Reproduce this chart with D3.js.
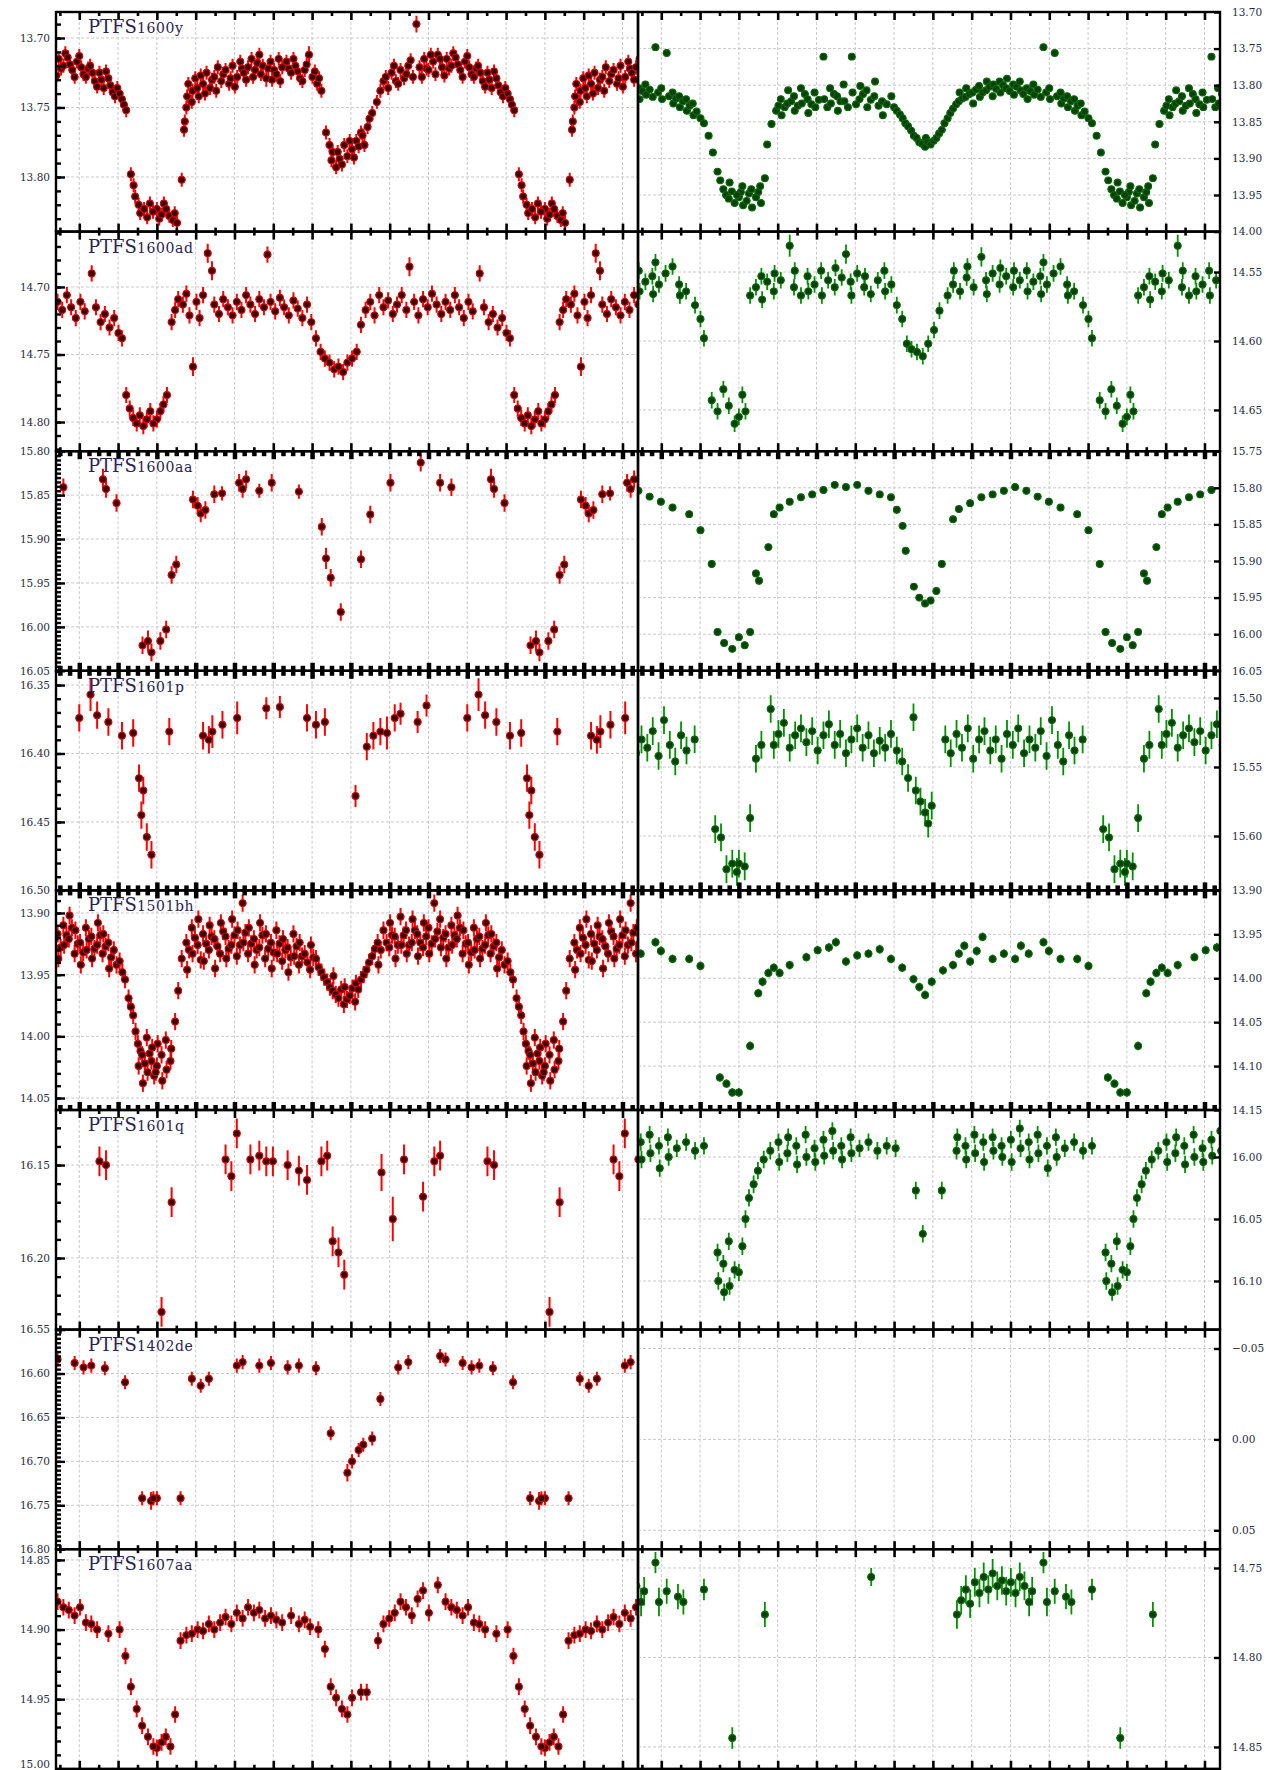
<!DOCTYPE html>
<html><head><meta charset="utf-8">
<script src="https://cdn.jsdelivr.net/npm/d3@7"></script>
<style>body{margin:0;background:#fff}</style>
</head><body>
<svg id="c" width="1266" height="1770"></svg>
<script>
// ---------------- DATA ----------------
const objectNames = ["PTFS1600y","PTFS1600ad","PTFS1600aa","PTFS1601p","PTFS1501bh","PTFS1601q","PTFS1402de","PTFS1607aa"];
const phaseDomain = [-0.26, 1.24];
const phaseMajor = [-0.2,-0.1,0,0.1,0.2,0.3,0.4,0.5,0.6,0.7,0.8,0.9,1.0,1.1,1.2];
const phaseMinorStep = [0.05,0.05,0.025,0.025,0.025,0.05,0.05,0.05];

// y domains (top, bottom) and tick labels, left (red) column
const yDomLeft = [[13.6813,13.8393],[14.659,14.8216],[15.80,16.05],[16.3396,16.50],[13.8817,14.0597],[16.1204,16.2385],[16.55,16.80],[14.8423,15.00]];
const yTicksLeft = [[13.70,13.75,13.80],[14.70,14.75,14.80],[15.80,15.85,15.90,15.95,16.00,16.05],[16.35,16.40,16.45,16.50],[13.90,13.95,14.00,14.05],[16.15,16.20],[16.55,16.60,16.65,16.70,16.75,16.80],[14.85,14.90,14.95,15.00]];
const yMinorLeft = [0.01,0.01,0.005,0.01,0.01,0.01,0.005,0.01];
// right (green) column
const yDomRight = [[13.70,14.00],[14.5207,14.6799],[15.75,16.05],[15.4803,15.6394],[13.90,14.15],[15.9621,16.1392],[-0.0604,0.0604],[14.7395,14.8622]];
const yTicksRight = [[13.70,13.75,13.80,13.85,13.90,13.95,14.00],[14.55,14.60,14.65],[15.75,15.80,15.85,15.90,15.95,16.00,16.05],[15.50,15.55,15.60],[13.90,13.95,14.00,14.05,14.10,14.15],[16.00,16.05,16.10],[-0.05,0.00,0.05],[14.75,14.80,14.85]];

// light curves: [phase, magnitude, error]
const lc1600yL = [[0.000,13.823,0.005],[0.006,13.830,0.005],[0.012,13.827,0.005],[0.018,13.819,0.005],[0.024,13.823,0.005],[0.032,13.828,0.005],[0.041,13.831,0.005],[0.046,13.826,0.005],[0.052,13.833,0.005],[0.064,13.802,0.005],[0.070,13.766,0.005],[0.072,13.760,0.005],[0.076,13.750,0.005],[0.078,13.742,0.005],[0.081,13.733,0.005],[0.090,13.746,0.005],[0.092,13.738,0.005],[0.099,13.729,0.005],[0.104,13.736,0.005],[0.108,13.742,0.005],[0.113,13.727,0.005],[0.119,13.733,0.005],[0.124,13.740,0.005],[0.128,13.725,0.005],[0.137,13.736,0.005],[0.142,13.730,0.005],[0.148,13.728,0.005],[0.153,13.738,0.005],[0.157,13.721,0.005],[0.166,13.731,0.005],[0.171,13.726,0.005],[0.177,13.723,0.005],[0.186,13.733,0.005],[0.190,13.729,0.005],[0.195,13.720,0.005],[0.201,13.735,0.005],[0.207,13.728,0.005],[0.215,13.717,0.005],[0.219,13.722,0.005],[0.224,13.725,0.005],[0.230,13.730,0.005],[0.235,13.721,0.005],[0.244,13.715,0.005],[0.248,13.728,0.005],[0.253,13.723,0.005],[0.259,13.718,0.005],[0.264,13.712,0.005],[0.268,13.726,0.005],[0.273,13.720,0.005],[0.282,13.729,0.006],[0.287,13.722,0.005],[0.293,13.717,0.005],[0.297,13.730,0.005],[0.302,13.723,0.005],[0.308,13.726,0.005],[0.314,13.715,0.005],[0.318,13.731,0.005],[0.323,13.721,0.005],[0.334,13.717,0.005],[0.340,13.722,0.005],[0.346,13.725,0.005],[0.352,13.715,0.005],[0.357,13.720,0.005],[0.363,13.724,0.005],[0.369,13.729,0.005],[0.375,13.731,0.005],[0.381,13.723,0.005],[0.386,13.719,0.005],[0.392,13.712,0.006],[0.401,13.728,0.005],[0.407,13.724,0.005],[0.413,13.733,0.005],[0.418,13.729,0.005],[0.424,13.738,0.005],[0.436,13.768,0.005],[0.445,13.777,0.005],[0.450,13.788,0.005],[0.453,13.782,0.005],[0.462,13.793,0.005],[0.466,13.782,0.005],[0.471,13.787,0.005],[0.477,13.791,0.005],[0.483,13.777,0.005],[0.491,13.785,0.005],[0.497,13.774,0.005],[0.503,13.780,0.005],[0.508,13.786,0.005],[0.514,13.774,0.005],[0.520,13.778,0.005],[0.526,13.768,0.005],[0.530,13.770,0.005],[0.535,13.777,0.005],[0.543,13.764,0.005],[0.548,13.758,0.005],[0.555,13.754,0.005],[0.567,13.746,0.005],[0.576,13.738,0.005],[0.584,13.731,0.005],[0.590,13.728,0.005],[0.596,13.736,0.005],[0.605,13.725,0.005],[0.611,13.720,0.005],[0.616,13.731,0.005],[0.622,13.733,0.005],[0.628,13.723,0.005],[0.637,13.729,0.005],[0.643,13.726,0.005],[0.648,13.720,0.005],[0.654,13.716,0.005],[0.660,13.728,0.005],[0.669,13.690,0.006],[0.677,13.721,0.005],[0.683,13.728,0.005],[0.689,13.715,0.005],[0.695,13.722,0.005],[0.700,13.723,0.005],[0.706,13.712,0.005],[0.712,13.717,0.005],[0.718,13.726,0.005],[0.724,13.712,0.005],[0.730,13.715,0.005],[0.735,13.721,0.005],[0.741,13.727,0.005],[0.747,13.715,0.005],[0.753,13.722,0.005],[0.759,13.720,0.005],[0.764,13.711,0.005],[0.770,13.714,0.005],[0.776,13.719,0.005],[0.782,13.723,0.005],[0.788,13.728,0.005],[0.794,13.717,0.005],[0.800,13.713,0.005],[0.805,13.721,0.005],[0.811,13.726,0.005],[0.817,13.728,0.005],[0.823,13.722,0.005],[0.828,13.720,0.005],[0.834,13.725,0.005],[0.840,13.731,0.005],[0.846,13.735,0.005],[0.852,13.725,0.005],[0.857,13.730,0.005],[0.863,13.736,0.005],[0.869,13.724,0.005],[0.875,13.729,0.005],[0.880,13.734,0.005],[0.886,13.739,0.005],[0.892,13.742,0.005],[0.898,13.736,0.005],[0.904,13.740,0.005],[0.910,13.744,0.005],[0.915,13.748,0.005],[0.921,13.752,0.005],[0.933,13.798,0.005],[0.940,13.806,0.005],[0.944,13.814,0.005],[0.953,13.820,0.005],[0.957,13.826,0.005],[0.967,13.823,0.005],[0.975,13.829,0.005],[0.982,13.819,0.005],[0.990,13.825,0.005]];
const lc1600yR = [[0.000,13.953,0.004],[0.005,13.946,0.004],[0.009,13.938,0.004],[0.011,13.964,0.004],[0.020,13.958,0.004],[0.026,13.948,0.004],[0.032,13.942,0.004],[0.034,13.967,0.004],[0.044,13.953,0.004],[0.050,13.946,0.004],[0.055,13.938,0.004],[0.057,13.961,0.004],[0.067,13.927,0.004],[0.073,13.881,0.004],[0.084,13.853,0.004],[0.096,13.835,0.004],[0.102,13.828,0.004],[0.108,13.819,0.004],[0.110,13.841,0.004],[0.118,13.830,0.004],[0.125,13.825,0.004],[0.127,13.807,0.004],[0.135,13.822,0.004],[0.142,13.815,0.004],[0.144,13.835,0.004],[0.152,13.828,0.004],[0.160,13.804,0.004],[0.162,13.825,0.004],[0.170,13.812,0.004],[0.177,13.819,0.004],[0.179,13.838,0.004],[0.187,13.826,0.004],[0.195,13.810,0.004],[0.197,13.830,0.004],[0.206,13.820,0.004],[0.218,13.761,0.004],[0.220,13.819,0.004],[0.228,13.830,0.004],[0.235,13.804,0.004],[0.237,13.825,0.004],[0.245,13.812,0.004],[0.253,13.815,0.004],[0.255,13.835,0.004],[0.262,13.822,0.004],[0.270,13.799,0.004],[0.272,13.822,0.004],[0.281,13.830,0.004],[0.291,13.761,0.004],[0.293,13.810,0.004],[0.302,13.826,0.004],[0.311,13.819,0.004],[0.313,13.801,0.004],[0.320,13.812,0.004],[0.329,13.807,0.004],[0.331,13.830,0.004],[0.340,13.820,0.004],[0.349,13.815,0.004],[0.351,13.795,0.004],[0.360,13.828,0.004],[0.369,13.822,0.004],[0.371,13.841,0.004],[0.381,13.826,0.004],[0.393,13.815,0.004],[0.400,13.830,0.004],[0.407,13.835,0.004],[0.415,13.840,0.004],[0.422,13.845,0.004],[0.429,13.852,0.004],[0.436,13.856,0.004],[0.444,13.862,0.004],[0.451,13.869,0.004],[0.458,13.872,0.004],[0.465,13.878,0.004],[0.472,13.880,0.004],[0.480,13.884,0.004],[0.482,13.872,0.004],[0.487,13.878,0.004],[0.494,13.881,0.004],[0.502,13.876,0.004],[0.509,13.872,0.004],[0.516,13.866,0.004],[0.523,13.861,0.004],[0.530,13.852,0.004],[0.538,13.845,0.004],[0.545,13.838,0.004],[0.552,13.832,0.004],[0.560,13.826,0.004],[0.567,13.822,0.004],[0.569,13.810,0.004],[0.576,13.818,0.004],[0.584,13.816,0.004],[0.586,13.804,0.004],[0.594,13.812,0.004],[0.602,13.810,0.004],[0.604,13.825,0.004],[0.611,13.806,0.004],[0.619,13.801,0.004],[0.621,13.816,0.004],[0.628,13.810,0.004],[0.637,13.807,0.004],[0.639,13.795,0.004],[0.646,13.802,0.004],[0.654,13.815,0.004],[0.656,13.799,0.004],[0.663,13.805,0.004],[0.672,13.795,0.004],[0.674,13.810,0.004],[0.681,13.800,0.004],[0.689,13.804,0.004],[0.691,13.791,0.004],[0.698,13.808,0.004],[0.707,13.799,0.004],[0.709,13.813,0.004],[0.716,13.802,0.004],[0.724,13.795,0.004],[0.726,13.807,0.004],[0.733,13.812,0.004],[0.742,13.804,0.004],[0.744,13.819,0.004],[0.751,13.808,0.004],[0.759,13.799,0.004],[0.761,13.813,0.004],[0.770,13.806,0.004],[0.778,13.816,0.004],[0.785,13.748,0.004],[0.792,13.810,0.004],[0.800,13.804,0.004],[0.802,13.819,0.004],[0.814,13.756,0.004],[0.820,13.815,0.004],[0.829,13.810,0.004],[0.831,13.825,0.004],[0.838,13.818,0.004],[0.846,13.815,0.004],[0.848,13.830,0.004],[0.856,13.822,0.004],[0.864,13.819,0.004],[0.866,13.835,0.004],[0.873,13.828,0.004],[0.881,13.825,0.004],[0.883,13.841,0.004],[0.891,13.836,0.004],[0.901,13.845,0.004],[0.910,13.852,0.004],[0.922,13.869,0.004],[0.933,13.892,0.004],[0.945,13.918,0.004],[0.952,13.930,0.004],[0.960,13.942,0.004],[0.967,13.950,0.004],[0.974,13.955,0.004],[0.976,13.933,0.004],[0.982,13.945,0.004],[0.989,13.961,0.004],[0.995,13.950,0.004]];
const lc1600adL = [[0.000,14.798,0.006],[0.009,14.792,0.006],[0.017,14.787,0.006],[0.026,14.780,0.006],[0.038,14.726,0.006],[0.047,14.717,0.006],[0.055,14.709,0.006],[0.067,14.713,0.006],[0.076,14.705,0.006],[0.084,14.721,0.006],[0.093,14.759,0.007],[0.102,14.711,0.006],[0.110,14.723,0.006],[0.119,14.706,0.006],[0.131,14.675,0.007],[0.142,14.688,0.007],[0.148,14.713,0.006],[0.160,14.720,0.006],[0.171,14.709,0.006],[0.183,14.715,0.006],[0.195,14.721,0.006],[0.206,14.711,0.006],[0.218,14.717,0.006],[0.230,14.706,0.006],[0.241,14.713,0.006],[0.253,14.720,0.006],[0.264,14.709,0.006],[0.276,14.715,0.006],[0.285,14.676,0.006],[0.293,14.711,0.006],[0.305,14.718,0.006],[0.317,14.708,0.006],[0.328,14.715,0.006],[0.340,14.721,0.006],[0.352,14.710,0.006],[0.363,14.716,0.006],[0.375,14.723,0.006],[0.387,14.713,0.006],[0.398,14.726,0.006],[0.410,14.738,0.006],[0.422,14.748,0.006],[0.433,14.753,0.006],[0.445,14.756,0.006],[0.457,14.761,0.006],[0.468,14.759,0.006],[0.480,14.763,0.006],[0.491,14.756,0.006],[0.503,14.753,0.006],[0.515,14.748,0.006],[0.526,14.728,0.006],[0.538,14.717,0.006],[0.550,14.711,0.006],[0.561,14.721,0.006],[0.573,14.706,0.006],[0.584,14.715,0.006],[0.596,14.710,0.006],[0.608,14.720,0.006],[0.619,14.713,0.006],[0.631,14.706,0.006],[0.643,14.717,0.006],[0.651,14.685,0.007],[0.663,14.711,0.006],[0.674,14.721,0.006],[0.686,14.709,0.006],[0.698,14.715,0.006],[0.709,14.705,0.006],[0.721,14.713,0.006],[0.733,14.720,0.006],[0.744,14.711,0.006],[0.756,14.717,0.006],[0.768,14.706,0.006],[0.779,14.715,0.006],[0.791,14.723,0.006],[0.803,14.711,0.006],[0.814,14.718,0.006],[0.832,14.690,0.006],[0.843,14.715,0.006],[0.855,14.726,0.006],[0.866,14.720,0.006],[0.878,14.730,0.006],[0.890,14.723,0.006],[0.901,14.734,0.006],[0.910,14.738,0.006],[0.921,14.780,0.006],[0.930,14.790,0.006],[0.939,14.797,0.006],[0.948,14.801,0.006],[0.956,14.795,0.006],[0.965,14.803,0.006],[0.974,14.798,0.006],[0.983,14.792,0.006],[0.991,14.801,0.006]];
const lc1600adR = [[0.000,14.655,0.006],[0.009,14.639,0.006],[0.017,14.651,0.006],[0.029,14.567,0.006],[0.044,14.561,0.006],[0.058,14.553,0.006],[0.060,14.570,0.006],[0.073,14.557,0.006],[0.090,14.564,0.006],[0.092,14.551,0.006],[0.108,14.556,0.006],[0.131,14.531,0.008],[0.142,14.561,0.006],[0.144,14.549,0.006],[0.160,14.567,0.006],[0.177,14.553,0.006],[0.179,14.564,0.006],[0.195,14.559,0.006],[0.212,14.549,0.006],[0.214,14.567,0.006],[0.230,14.556,0.006],[0.247,14.561,0.006],[0.249,14.547,0.006],[0.265,14.554,0.006],[0.276,14.537,0.007],[0.288,14.557,0.006],[0.290,14.567,0.006],[0.305,14.551,0.006],[0.323,14.561,0.006],[0.325,14.553,0.006],[0.340,14.566,0.006],[0.358,14.556,0.006],[0.375,14.549,0.006],[0.377,14.564,0.006],[0.393,14.559,0.006],[0.407,14.574,0.006],[0.421,14.584,0.006],[0.433,14.602,0.006],[0.445,14.606,0.006],[0.459,14.608,0.006],[0.474,14.611,0.006],[0.488,14.602,0.006],[0.503,14.592,0.006],[0.517,14.578,0.006],[0.538,14.567,0.006],[0.552,14.559,0.006],[0.554,14.549,0.006],[0.570,14.564,0.006],[0.587,14.554,0.006],[0.589,14.546,0.006],[0.605,14.561,0.006],[0.625,14.539,0.007],[0.637,14.556,0.006],[0.639,14.566,0.006],[0.654,14.551,0.006],[0.672,14.559,0.006],[0.674,14.547,0.006],[0.689,14.553,0.006],[0.707,14.561,0.006],[0.709,14.549,0.006],[0.724,14.556,0.006],[0.742,14.549,0.006],[0.744,14.564,0.006],[0.759,14.557,0.006],[0.777,14.553,0.006],[0.779,14.566,0.006],[0.785,14.543,0.006],[0.794,14.559,0.006],[0.811,14.551,0.006],[0.829,14.546,0.006],[0.846,14.559,0.006],[0.848,14.567,0.006],[0.864,14.564,0.006],[0.887,14.574,0.006],[0.901,14.584,0.006],[0.910,14.598,0.006],[0.930,14.643,0.006],[0.945,14.651,0.006],[0.960,14.635,0.006],[0.974,14.647,0.006],[0.989,14.660,0.006]];
const lc1600aaL = [[0.009,16.016,0.010],[0.024,16.003,0.010],[0.038,15.941,0.010],[0.050,15.929,0.010],[0.093,15.855,0.010],[0.105,15.862,0.010],[0.113,15.871,0.010],[0.125,15.867,0.010],[0.148,15.849,0.010],[0.168,15.848,0.008],[0.212,15.836,0.010],[0.221,15.843,0.010],[0.230,15.832,0.010],[0.264,15.845,0.008],[0.296,15.836,0.010],[0.366,15.846,0.008],[0.425,15.886,0.010],[0.436,15.922,0.012],[0.448,15.944,0.010],[0.474,15.983,0.010],[0.526,15.923,0.010],[0.550,15.872,0.010],[0.602,15.836,0.010],[0.680,15.813,0.010],[0.730,15.836,0.010],[0.759,15.841,0.010],[0.861,15.832,0.012],[0.869,15.843,0.010],[0.896,15.859,0.010],[0.963,16.021,0.010],[0.977,16.016,0.012],[0.986,16.029,0.010]];
const lc1600aaR = [[0.000,16.004,0.005],[0.015,16.015,0.005],[0.029,15.997,0.005],[0.044,15.917,0.005],[0.052,15.927,0.005],[0.076,15.881,0.005],[0.090,15.836,0.005],[0.105,15.827,0.005],[0.131,15.819,0.005],[0.160,15.813,0.005],[0.189,15.809,0.005],[0.218,15.803,0.005],[0.247,15.796,0.005],[0.276,15.799,0.005],[0.305,15.796,0.005],[0.334,15.804,0.005],[0.363,15.809,0.005],[0.392,15.813,0.005],[0.407,15.830,0.005],[0.422,15.852,0.005],[0.430,15.886,0.005],[0.451,15.935,0.005],[0.465,15.950,0.005],[0.480,15.958,0.005],[0.494,15.954,0.005],[0.509,15.941,0.005],[0.523,15.904,0.005],[0.552,15.843,0.005],[0.567,15.829,0.005],[0.596,15.821,0.005],[0.625,15.813,0.005],[0.654,15.809,0.005],[0.683,15.804,0.005],[0.712,15.799,0.005],[0.741,15.804,0.005],[0.770,15.812,0.005],[0.799,15.819,0.005],[0.829,15.827,0.005],[0.872,15.836,0.005],[0.901,15.858,0.005],[0.930,15.904,0.005],[0.945,15.997,0.005],[0.962,16.012,0.005],[0.983,16.020,0.005]];
const lc1601pL = [[0.032,16.384,0.010],[0.119,16.387,0.010],[0.134,16.390,0.010],[0.143,16.384,0.012],[0.169,16.379,0.010],[0.207,16.374,0.012],[0.282,16.367,0.008],[0.317,16.366,0.008],[0.387,16.374,0.010],[0.410,16.379,0.010],[0.433,16.377,0.010],[0.512,16.431,0.008],[0.541,16.395,0.010],[0.558,16.387,0.010],[0.576,16.384,0.010],[0.593,16.385,0.012],[0.613,16.374,0.010],[0.628,16.371,0.008],[0.672,16.377,0.008],[0.695,16.365,0.008],[0.800,16.374,0.010],[0.829,16.357,0.012],[0.846,16.372,0.010],[0.875,16.377,0.010],[0.910,16.387,0.010],[0.939,16.385,0.010],[0.954,16.418,0.010],[0.960,16.445,0.010],[0.965,16.427,0.010],[0.974,16.461,0.010],[0.986,16.474,0.010]];
const lc1601pR = [[0.000,15.620,0.010],[0.015,15.622,0.010],[0.029,15.587,0.010],[0.044,15.544,0.010],[0.058,15.534,0.010],[0.082,15.508,0.010],[0.090,15.534,0.010],[0.102,15.526,0.010],[0.116,15.518,0.010],[0.131,15.536,0.010],[0.145,15.527,0.010],[0.160,15.522,0.010],[0.174,15.532,0.010],[0.189,15.524,0.010],[0.203,15.538,0.010],[0.218,15.527,0.010],[0.232,15.519,0.010],[0.247,15.534,0.010],[0.261,15.526,0.010],[0.276,15.540,0.010],[0.290,15.530,0.010],[0.305,15.522,0.010],[0.319,15.536,0.010],[0.334,15.527,0.010],[0.348,15.540,0.010],[0.363,15.531,0.010],[0.377,15.536,0.010],[0.392,15.526,0.010],[0.407,15.538,0.010],[0.421,15.546,0.010],[0.436,15.558,0.010],[0.450,15.514,0.010],[0.456,15.567,0.010],[0.468,15.575,0.010],[0.480,15.583,0.010],[0.488,15.591,0.010],[0.497,15.578,0.010],[0.532,15.530,0.010],[0.546,15.540,0.010],[0.561,15.526,0.010],[0.575,15.536,0.010],[0.590,15.522,0.010],[0.604,15.544,0.010],[0.619,15.530,0.010],[0.633,15.524,0.010],[0.648,15.538,0.010],[0.662,15.530,0.010],[0.677,15.544,0.010],[0.691,15.526,0.010],[0.706,15.534,0.010],[0.720,15.522,0.010],[0.735,15.540,0.010],[0.749,15.530,0.010],[0.764,15.536,0.010],[0.778,15.524,0.010],[0.793,15.542,0.010],[0.807,15.516,0.010],[0.822,15.534,0.010],[0.836,15.546,0.010],[0.851,15.527,0.010],[0.865,15.538,0.010],[0.886,15.530,0.010],[0.939,15.595,0.010],[0.954,15.601,0.010],[0.968,15.624,0.010],[0.983,15.620,0.010],[0.995,15.626,0.010]];
const lc1501bhL = [[0.000,14.024,0.007],[0.002,14.006,0.007],[0.012,14.015,0.007],[0.014,14.036,0.007],[0.023,14.003,0.007],[0.025,14.027,0.007],[0.035,14.020,0.007],[0.037,14.010,0.007],[0.047,13.988,0.007],[0.055,13.963,0.007],[0.064,13.937,0.007],[0.076,13.924,0.007],[0.078,13.946,0.007],[0.083,13.930,0.007],[0.090,13.912,0.007],[0.092,13.933,0.007],[0.098,13.920,0.007],[0.105,13.926,0.007],[0.107,13.905,0.007],[0.113,13.938,0.007],[0.119,13.917,0.007],[0.121,13.939,0.007],[0.127,13.925,0.007],[0.134,13.930,0.007],[0.136,13.910,0.007],[0.141,13.919,0.007],[0.148,13.921,0.007],[0.150,13.945,0.007],[0.156,13.927,0.007],[0.163,13.933,0.007],[0.165,13.908,0.007],[0.171,13.915,0.007],[0.177,13.919,0.007],[0.179,13.937,0.007],[0.185,13.929,0.007],[0.192,13.926,0.007],[0.194,13.905,0.007],[0.200,13.918,0.007],[0.206,13.935,0.007],[0.208,13.914,0.007],[0.214,13.926,0.007],[0.221,13.892,0.007],[0.223,13.924,0.007],[0.228,13.916,0.007],[0.235,13.933,0.007],[0.237,13.912,0.007],[0.243,13.925,0.007],[0.250,13.921,0.007],[0.252,13.942,0.007],[0.257,13.930,0.007],[0.264,13.928,0.007],[0.266,13.908,0.007],[0.272,13.918,0.007],[0.279,13.937,0.007],[0.281,13.917,0.007],[0.287,13.929,0.007],[0.294,13.924,0.007],[0.296,13.945,0.007],[0.301,13.932,0.007],[0.308,13.914,0.007],[0.310,13.933,0.007],[0.316,13.925,0.007],[0.323,13.939,0.007],[0.325,13.921,0.007],[0.331,13.930,0.007],[0.337,13.928,0.007],[0.339,13.948,0.007],[0.345,13.936,0.007],[0.352,13.917,0.007],[0.354,13.935,0.007],[0.360,13.927,0.007],[0.366,13.942,0.007],[0.368,13.924,0.007],[0.374,13.935,0.007],[0.381,13.933,0.007],[0.388,13.940,0.007],[0.395,13.946,0.007],[0.397,13.926,0.007],[0.403,13.936,0.007],[0.410,13.937,0.007],[0.417,13.944,0.007],[0.424,13.948,0.007],[0.431,13.952,0.007],[0.439,13.956,0.007],[0.446,13.960,0.007],[0.453,13.963,0.007],[0.455,13.951,0.007],[0.461,13.966,0.007],[0.468,13.969,0.007],[0.475,13.962,0.007],[0.482,13.974,0.007],[0.484,13.960,0.007],[0.490,13.970,0.007],[0.497,13.967,0.007],[0.504,13.961,0.007],[0.511,13.972,0.007],[0.513,13.957,0.007],[0.519,13.962,0.007],[0.526,13.954,0.007],[0.533,13.950,0.007],[0.540,13.946,0.007],[0.547,13.940,0.007],[0.555,13.935,0.007],[0.562,13.929,0.007],[0.569,13.924,0.007],[0.571,13.942,0.007],[0.577,13.930,0.007],[0.584,13.914,0.007],[0.592,13.924,0.007],[0.599,13.928,0.007],[0.601,13.908,0.007],[0.606,13.918,0.007],[0.613,13.919,0.007],[0.615,13.937,0.007],[0.621,13.926,0.007],[0.628,13.903,0.007],[0.630,13.926,0.007],[0.636,13.918,0.007],[0.642,13.914,0.007],[0.644,13.933,0.007],[0.650,13.926,0.007],[0.657,13.924,0.007],[0.659,13.905,0.007],[0.665,13.914,0.007],[0.671,13.917,0.007],[0.673,13.935,0.007],[0.679,13.924,0.007],[0.686,13.928,0.007],[0.688,13.908,0.007],[0.694,13.919,0.007],[0.700,13.912,0.007],[0.702,13.933,0.007],[0.708,13.925,0.007],[0.715,13.892,0.007],[0.717,13.921,0.007],[0.723,13.915,0.007],[0.730,13.905,0.007],[0.732,13.928,0.007],[0.738,13.920,0.007],[0.744,13.917,0.007],[0.746,13.937,0.007],[0.752,13.928,0.007],[0.759,13.910,0.007],[0.761,13.926,0.007],[0.767,13.918,0.007],[0.773,13.921,0.007],[0.775,13.902,0.007],[0.781,13.912,0.007],[0.788,13.933,0.007],[0.790,13.914,0.007],[0.796,13.925,0.007],[0.802,13.924,0.007],[0.804,13.942,0.007],[0.810,13.932,0.007],[0.817,13.912,0.007],[0.819,13.930,0.007],[0.825,13.921,0.007],[0.831,13.919,0.007],[0.833,13.937,0.007],[0.839,13.929,0.007],[0.846,13.926,0.007],[0.848,13.908,0.007],[0.854,13.918,0.007],[0.860,13.933,0.007],[0.862,13.917,0.007],[0.868,13.927,0.007],[0.875,13.924,0.007],[0.877,13.945,0.007],[0.882,13.936,0.007],[0.889,13.930,0.007],[0.896,13.942,0.007],[0.904,13.939,0.007],[0.911,13.948,0.007],[0.918,13.954,0.007],[0.927,13.969,0.007],[0.933,13.976,0.007],[0.939,13.983,0.007],[0.945,13.996,0.007],[0.951,14.006,0.007],[0.953,14.024,0.007],[0.958,14.012,0.007],[0.962,14.015,0.007],[0.964,14.038,0.007],[0.969,14.022,0.007],[0.974,14.001,0.007],[0.976,14.029,0.007],[0.981,14.014,0.007],[0.986,14.020,0.007],[0.988,14.009,0.007],[0.993,14.032,0.007],[0.997,14.029,0.007]];
const lc1501bhR = [[0.000,14.130,0.005],[0.029,14.077,0.005],[0.050,14.017,0.005],[0.061,14.004,0.005],[0.076,13.994,0.005],[0.090,13.988,0.005],[0.105,13.994,0.005],[0.131,13.985,0.005],[0.174,13.976,0.005],[0.203,13.968,0.005],[0.232,13.965,0.005],[0.250,13.959,0.005],[0.276,13.981,0.005],[0.305,13.974,0.005],[0.334,13.972,0.005],[0.363,13.967,0.005],[0.392,13.978,0.005],[0.421,13.988,0.005],[0.450,14.001,0.005],[0.465,14.010,0.005],[0.480,14.019,0.005],[0.497,14.004,0.005],[0.526,13.991,0.005],[0.552,13.985,0.005],[0.567,13.972,0.005],[0.581,13.963,0.005],[0.596,13.981,0.005],[0.613,13.969,0.005],[0.628,13.953,0.005],[0.654,13.978,0.005],[0.683,13.972,0.005],[0.712,13.978,0.005],[0.727,13.963,0.005],[0.747,13.972,0.005],[0.785,13.959,0.005],[0.799,13.969,0.005],[0.829,13.978,0.005],[0.872,13.978,0.005],[0.901,13.986,0.005],[0.951,14.113,0.005],[0.968,14.120,0.005],[0.983,14.130,0.005]];
const lc1601qL = [[0.012,16.229,0.008],[0.038,16.170,0.008],[0.177,16.147,0.008],[0.192,16.156,0.008],[0.206,16.133,0.008],[0.241,16.147,0.008],[0.264,16.145,0.008],[0.282,16.148,0.008],[0.299,16.148,0.008],[0.337,16.150,0.008],[0.366,16.153,0.008],[0.387,16.158,0.008],[0.424,16.148,0.008],[0.439,16.145,0.008],[0.453,16.191,0.008],[0.468,16.197,0.008],[0.483,16.209,0.008],[0.579,16.154,0.010],[0.608,16.179,0.012],[0.637,16.147,0.008],[0.686,16.167,0.008],[0.715,16.148,0.008],[0.730,16.145,0.008],[0.852,16.148,0.008],[0.869,16.150,0.008]];
const lc1601qR = [[0.000,16.093,0.007],[0.009,16.072,0.007],[0.017,16.050,0.007],[0.026,16.033,0.007],[0.038,16.022,0.007],[0.049,16.011,0.007],[0.064,16.002,0.007],[0.081,15.995,0.007],[0.102,15.988,0.007],[0.104,16.004,0.007],[0.125,15.997,0.007],[0.127,15.984,0.007],[0.148,15.991,0.007],[0.150,16.006,0.007],[0.172,15.982,0.007],[0.174,16.000,0.007],[0.195,15.993,0.007],[0.197,16.004,0.007],[0.218,15.986,0.007],[0.220,15.999,0.007],[0.241,15.979,0.007],[0.243,15.995,0.007],[0.264,15.991,0.007],[0.266,16.002,0.007],[0.288,15.984,0.007],[0.290,15.997,0.007],[0.311,15.993,0.007],[0.334,15.988,0.007],[0.357,15.995,0.007],[0.381,15.991,0.007],[0.404,15.993,0.007],[0.456,16.027,0.007],[0.474,16.062,0.007],[0.523,16.027,0.007],[0.561,15.995,0.007],[0.563,15.984,0.007],[0.584,15.991,0.007],[0.586,16.002,0.007],[0.607,15.982,0.007],[0.609,15.997,0.007],[0.630,15.988,0.007],[0.632,16.004,0.007],[0.654,15.984,0.007],[0.656,15.995,0.007],[0.677,15.991,0.007],[0.679,16.000,0.007],[0.701,15.986,0.007],[0.703,16.004,0.007],[0.724,15.977,0.007],[0.726,15.993,0.007],[0.747,15.988,0.007],[0.749,16.002,0.007],[0.770,15.982,0.007],[0.772,15.997,0.007],[0.794,15.991,0.007],[0.796,16.009,0.007],[0.817,15.984,0.007],[0.819,16.000,0.007],[0.840,15.993,0.007],[0.864,15.988,0.007],[0.887,15.995,0.007],[0.910,15.991,0.007],[0.945,16.077,0.007],[0.947,16.100,0.007],[0.960,16.086,0.007],[0.962,16.109,0.007],[0.974,16.068,0.007],[0.976,16.104,0.007],[0.989,16.091,0.007]];
const lc1402deL = [[0.000,16.742,0.008],[0.061,16.742,0.008],[0.090,16.606,0.008],[0.113,16.614,0.008],[0.134,16.606,0.008],[0.206,16.591,0.008],[0.221,16.587,0.008],[0.264,16.591,0.008],[0.294,16.588,0.008],[0.337,16.593,0.008],[0.366,16.591,0.008],[0.410,16.594,0.008],[0.448,16.668,0.008],[0.491,16.713,0.010],[0.503,16.700,0.008],[0.520,16.687,0.008],[0.532,16.681,0.008],[0.555,16.674,0.008],[0.576,16.629,0.008],[0.622,16.593,0.008],[0.648,16.587,0.008],[0.730,16.580,0.008],[0.744,16.584,0.008],[0.788,16.588,0.008],[0.811,16.593,0.008],[0.831,16.591,0.008],[0.866,16.594,0.008],[0.918,16.610,0.008],[0.962,16.742,0.008],[0.985,16.745,0.010],[0.991,16.742,0.008]];
const lc1402deR = [];
const lc1607aaL = [[0.000,14.985,0.006],[0.012,14.981,0.006],[0.023,14.977,0.006],[0.035,14.984,0.006],[0.047,14.961,0.006],[0.061,14.908,0.006],[0.076,14.904,0.006],[0.090,14.903,0.006],[0.105,14.900,0.006],[0.119,14.901,0.006],[0.134,14.896,0.006],[0.148,14.900,0.006],[0.163,14.895,0.006],[0.177,14.891,0.006],[0.192,14.896,0.006],[0.206,14.888,0.006],[0.221,14.892,0.006],[0.235,14.884,0.006],[0.250,14.888,0.006],[0.264,14.886,0.006],[0.279,14.892,0.006],[0.294,14.890,0.006],[0.308,14.893,0.006],[0.323,14.895,0.006],[0.346,14.890,0.006],[0.366,14.896,0.006],[0.381,14.893,0.006],[0.395,14.898,0.006],[0.416,14.900,0.006],[0.433,14.914,0.006],[0.448,14.941,0.006],[0.462,14.949,0.006],[0.477,14.957,0.006],[0.491,14.961,0.006],[0.503,14.949,0.006],[0.526,14.945,0.006],[0.541,14.945,0.006],[0.570,14.908,0.006],[0.584,14.896,0.006],[0.599,14.892,0.006],[0.613,14.888,0.006],[0.628,14.880,0.006],[0.642,14.884,0.006],[0.657,14.890,0.006],[0.672,14.878,0.006],[0.686,14.872,0.006],[0.701,14.888,0.006],[0.724,14.868,0.006],[0.744,14.880,0.006],[0.759,14.884,0.006],[0.773,14.886,0.006],[0.788,14.890,0.006],[0.802,14.884,0.006],[0.817,14.895,0.006],[0.831,14.896,0.006],[0.846,14.900,0.006],[0.875,14.903,0.006],[0.904,14.900,0.006],[0.919,14.919,0.006],[0.933,14.941,0.006],[0.948,14.957,0.006],[0.962,14.969,0.006],[0.977,14.977,0.006],[0.991,14.984,0.006]];
const lc1607aaR = [[0.067,14.776,0.007],[0.341,14.755,0.005],[0.562,14.776,0.008],[0.573,14.768,0.008],[0.585,14.762,0.008],[0.596,14.770,0.008],[0.608,14.758,0.008],[0.620,14.764,0.008],[0.631,14.755,0.008],[0.643,14.762,0.008],[0.654,14.753,0.008],[0.666,14.760,0.008],[0.678,14.757,0.008],[0.689,14.763,0.008],[0.701,14.758,0.008],[0.713,14.764,0.008],[0.724,14.755,0.008],[0.736,14.760,0.008],[0.748,14.769,0.008],[0.756,14.763,0.008],[0.785,14.747,0.006],[0.794,14.769,0.008],[0.814,14.763,0.007],[0.843,14.766,0.007],[0.857,14.769,0.007],[0.910,14.762,0.006],[0.983,14.845,0.006]];

const leftSeries  = [lc1600yL, lc1600adL, lc1600aaL, lc1601pL, lc1501bhL, lc1601qL, lc1402deL, lc1607aaL];
const rightSeries = [lc1600yR, lc1600adR, lc1600aaR, lc1601pR, lc1501bhR, lc1601qR, lc1402deR, lc1607aaR];

// ---------------- LAYOUT ----------------
const svg = d3.select("#c");
svg.append("rect").attr("width",1266).attr("height",1770).attr("fill","#fff");
const rowTop0 = 12, rowH = 219.6;
const colRange = [[56,638],[638,1220]];
const fontTick = "'DejaVu Serif', serif";
const defs = svg.append("defs");

function drawPanel(row, col) {
  const top = rowTop0 + row*rowH, bot = top + rowH;
  const [xa, xb] = colRange[col];
  const x = d3.scaleLinear().domain(phaseDomain).range([xa, xb]);
  const dom = col === 0 ? yDomLeft[row] : yDomRight[row];
  const ticks = col === 0 ? yTicksLeft[row] : yTicksRight[row];
  const y = d3.scaleLinear().domain(dom).range([top, bot]);
  const data = col === 0 ? leftSeries[row] : rightSeries[row];
  const g = svg.append("g");
  const cid = `clip${row}_${col}`;
  defs.append("clipPath").attr("id", cid).append("rect")
    .attr("x", xa).attr("y", top).attr("width", xb - xa).attr("height", rowH);

  // grid
  const grid = g.append("g").attr("stroke", "#c9c9c9").attr("stroke-width", 1).attr("stroke-dasharray", "3,2");
  grid.selectAll("line.v").data(phaseMajor).join("line")
    .attr("x1", d => x(d)).attr("x2", d => x(d)).attr("y1", top).attr("y2", bot);
  grid.selectAll("line.h").data(ticks.filter(t => y(t) > top + 1 && y(t) < bot - 1)).join("line")
    .attr("x1", xa).attr("x2", xb).attr("y1", d => y(d)).attr("y2", d => y(d));

  // points (phase-folded, repeated at +-1)
  const pts = [];
  data.forEach(d => [-1, 0, 1].forEach(k => {
    const p = d[0] + k;
    if (p >= phaseDomain[0] - 0.02 && p <= phaseDomain[1] + 0.02) pts.push([p, d[1], d[2]]);
  }));
  const pg = g.append("g").attr("clip-path", `url(#${cid})`);
  const errCol = col === 0 ? "#ff0000" : "#009000";
  pg.selectAll("line.ey").data(pts).join("line")
    .attr("x1", d => x(d[0])).attr("x2", d => x(d[0]))
    .attr("y1", d => y(d[1] - d[2])).attr("y2", d => y(d[1] + d[2]))
    .attr("stroke", errCol).attr("stroke-width", col === 0 ? 2 : 1.8);
  pg.selectAll("line.ex").data(pts).join("line")
    .attr("x1", d => x(d[0]) - 3.8).attr("x2", d => x(d[0]) + 3.8)
    .attr("y1", d => y(d[1])).attr("y2", d => y(d[1]))
    .attr("stroke", errCol).attr("stroke-width", 1.8);
  pg.selectAll("circle").data(pts).join("circle")
    .attr("cx", d => x(d[0])).attr("cy", d => y(d[1])).attr("r", 3.4)
    .attr("fill", col === 0 ? "#3c0000" : "#0b3f0b")
    .attr("stroke", col === 0 ? "#d00000" : "#0a6a0a").attr("stroke-width", 1.1);

  // x ticks (top and bottom, inward)
  const mstep = phaseMinorStep[row];
  const phaseMinor = d3.range(Math.ceil(phaseDomain[0] / mstep), Math.floor(phaseDomain[1] / mstep) + 1)
    .map(k => +(k * mstep).toFixed(4))
    .filter(v => Math.abs(v * 10 - Math.round(v * 10)) > 1e-6);
  const heavy = mstep < 0.05;
  const axes = [];
  axes.push(g.append("g").attr("transform", `translate(0,${top})`)
    .call(d3.axisTop(x).tickValues(phaseMajor).tickSize(-8).tickFormat("")));
  axes.push(g.append("g").attr("transform", `translate(0,${top})`)
    .call(d3.axisTop(x).tickValues(phaseMinor).tickSize(heavy ? -5 : -4).tickFormat("")));
  axes.push(g.append("g").attr("transform", `translate(0,${bot})`)
    .call(d3.axisBottom(x).tickValues(phaseMajor).tickSize(-8).tickFormat("")));
  axes.push(g.append("g").attr("transform", `translate(0,${bot})`)
    .call(d3.axisBottom(x).tickValues(phaseMinor).tickSize(heavy ? -5 : -4).tickFormat("")));
  axes.forEach(a => {
    a.select(".domain").remove();
    a.selectAll("line").attr("stroke", "#000").attr("stroke-width", heavy ? 4.5 : 2.6);
  });

  // y ticks
  if (col === 0) {
    const step = yMinorLeft[row];
    const minor = d3.range(Math.ceil(dom[0] / step - 1e-6), Math.floor(dom[1] / step + 1e-6) + 1).map(k => +(k * step).toFixed(4));
    const am = g.append("g").attr("transform", `translate(${xa},0)`)
      .call(d3.axisLeft(y).tickValues(minor).tickSize(-5).tickFormat(""));
    const aM = g.append("g").attr("transform", `translate(${xa},0)`)
      .call(d3.axisLeft(y).tickValues(ticks).tickSize(-9).tickPadding(6).tickFormat(d3.format(".2f")));
    [am, aM].forEach(a => {
      a.select(".domain").remove();
      a.selectAll("line").attr("stroke", "#000").attr("stroke-width", 2.4);
    });
    aM.selectAll("text").attr("font-family", fontTick).attr("font-size", 10.5).attr("fill", "#2a2a40");
    // keep the lowest label inside the picture
    aM.selectAll(".tick").filter(d => y(d) > 1762).select("text").attr("dy", "-0.1em");
  } else {
    const aR = g.append("g").attr("transform", `translate(${xb},0)`)
      .call(d3.axisRight(y).tickValues(ticks).tickSize(-6).tickPadding(12)
        .tickFormat(d => (d < 0 ? "\u2212" : "") + d3.format(".2f")(Math.abs(d))));
    aR.select(".domain").remove();
    aR.selectAll("line").attr("stroke", "#000").attr("stroke-width", 2.4);
    aR.selectAll("text").attr("font-family", fontTick).attr("font-size", 10.5).attr("fill", "#2a2a40");
  }

  // frame
  g.append("rect").attr("x", xa).attr("y", top).attr("width", xb - xa).attr("height", rowH)
    .attr("fill", "none").attr("stroke", "#000").attr("stroke-width", 2.4);

  // object label
  if (col === 0) {
    const name = objectNames[row];
    const t = g.append("text").attr("x", 88).attr("y", top + 21)
      .attr("font-family", "'DejaVu Serif', serif").attr("fill", "#2a2350");
    t.append("tspan").attr("font-size", 18).text(name.slice(0, 4));
    t.append("tspan").attr("font-size", 14).attr("letter-spacing", 0.6).text(name.slice(4));
  }
}

for (let r = 0; r < objectNames.length; r++) { drawPanel(r, 0); drawPanel(r, 1); }
</script>
</body></html>
